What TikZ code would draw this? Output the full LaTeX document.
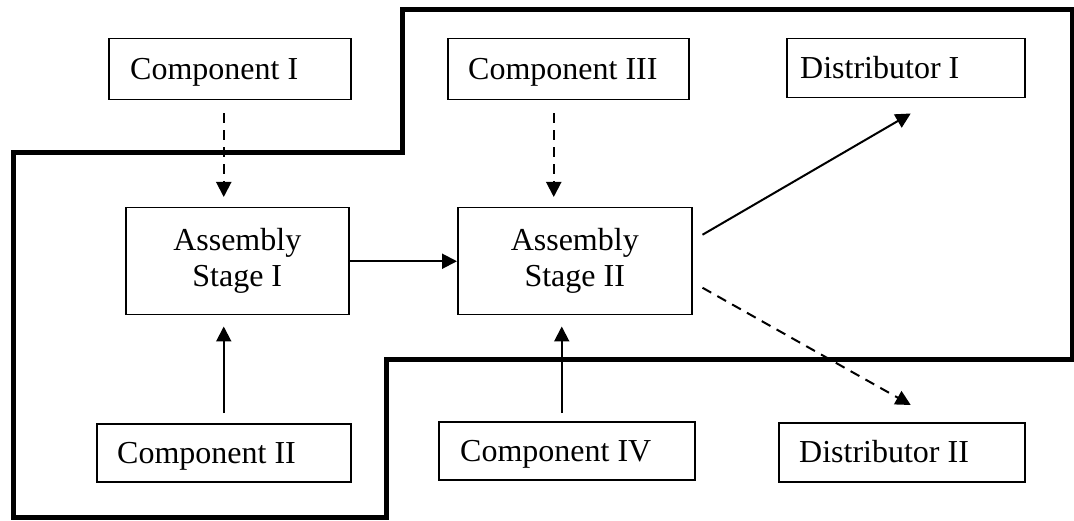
\documentclass[tikz,border=0pt]{standalone}
\usepackage{fontspec}
\setmainfont{Liberation Serif}
\usetikzlibrary{arrows.meta,calc}
\begin{document}
\begin{tikzpicture}[x=1pt,y=-1pt,
  box/.style={draw, line width=1.5pt, inner sep=0pt, anchor=north west},
  txt/.style={inner sep=0pt, anchor=base west, font=\fontsize{32}{36}\selectfont},
  stagebox/.style={box, align=center, font=\fontsize{32}{36}\selectfont},
  conn/.style={line width=2pt, -{Triangle[length=15pt,width=15pt]}},
  dconn/.style={conn, dash pattern=on 10pt off 7pt},
  region/.style={line width=5pt, miter limit=10}]
\useasboundingbox (0,0) rectangle (1074,521);
% boundary
\draw[region] (13,153) -- (402,153) -- (402,10) -- (1072,10) -- (1072,360)
  -- (386,360) -- (386,517) -- (13,517) -- cycle;
% boxes
\node[box, minimum width=242pt, minimum height=61pt] (c1) at (108,38) {};
\node[txt] (t1) at (130,79.5) {Component I};
\node[box, minimum width=241pt, minimum height=61pt] (c3) at (447,38) {};
\node[txt] (t3) at (468,79.5) {Component III};
\node[box, minimum width=238pt, minimum height=59pt] (d1) at (786,38) {};
\node[txt] (td1) at (800,78.5) {Distributor I};
\node[box, minimum width=254pt, minimum height=58pt] (c2) at (96,423) {};
\node[txt] (t2) at (117,463) {Component II};
\node[box, minimum width=256pt, minimum height=58pt] (c4) at (438,421) {};
\node[txt] (t4) at (460,461) {Component IV};
\node[box, minimum width=246pt, minimum height=59pt] (d2) at (778,422) {};
\node[txt] (td2) at (799,462.5) {Distributor II};
\node[stagebox, minimum width=223pt, minimum height=107pt] (s1) at (125,207) {Assembly\\Stage I};
\node[stagebox, minimum width=234pt, minimum height=107pt] (s2) at (457,207) {Assembly\\Stage II};
% connectors
\draw[dconn] ($(c1.south)+(-6,13)$) -- ($(s1.north)+(-13.5,-10)$);
\draw[dconn] ($(c3.south)+(-14.5,13)$) -- ($(s2.north)+(-21,-10)$);
\draw[conn] ($(c2.north)+(0,-10)$) -- ($(s1.south)+(-13.5,11)$);
\draw[conn] ($(c4.north)+(-5,-8)$) -- ($(s2.south)+(-13,11)$);
\draw[conn] (s1.east) -- (s2.west);
\draw[conn] ($(s2.east)+(10,-26.5)$) -- ($(d1.south)+(5,15)$);
\draw[dconn] ($(s2.east)+(10,26.5)$) -- ($(d2.north)+(9,-17)$);
\end{tikzpicture}
\end{document}
